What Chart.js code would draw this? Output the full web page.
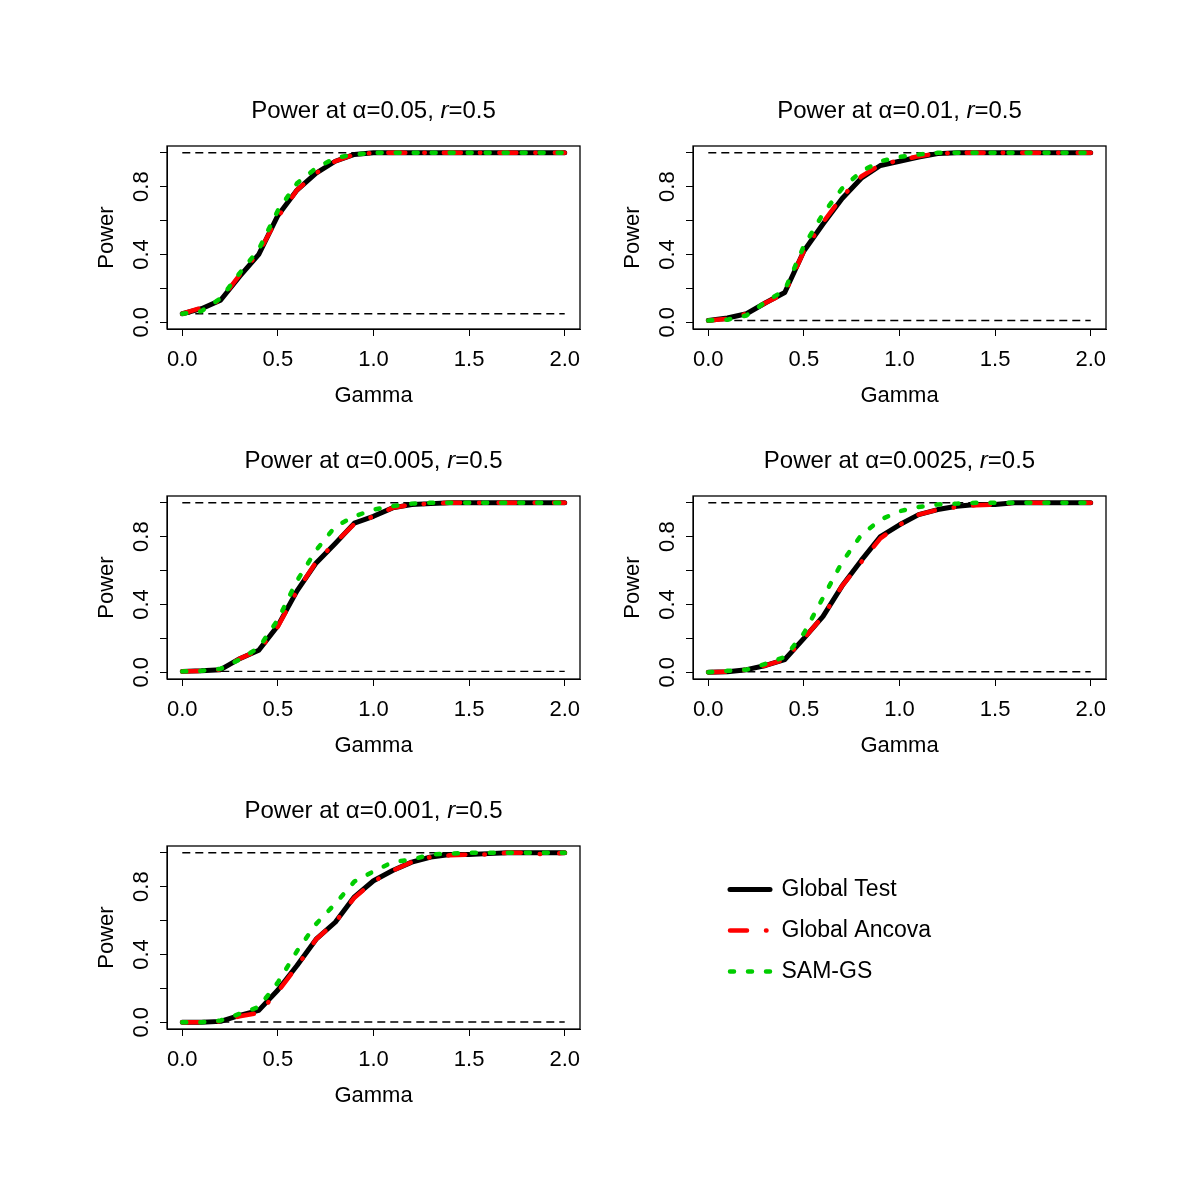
<!DOCTYPE html>
<html>
<head>
<meta charset="utf-8">
<script src="https://cdn.jsdelivr.net/npm/chart.js@4.4.1/dist/chart.umd.min.js"></script>
<style>
  html, body { margin: 0; padding: 0; background: #fff; }
  #wrap { position: relative; width: 1200px; height: 1186px; background: #fff; }
  canvas { position: absolute; }
</style>
</head>
<body>
<div id="wrap">
  <canvas id="p1" width="540" height="345" style="left:60px;top:75px"></canvas>
  <canvas id="p2" width="540" height="345" style="left:586px;top:75px"></canvas>
  <canvas id="p3" width="540" height="345" style="left:60px;top:425px"></canvas>
  <canvas id="p4" width="540" height="345" style="left:586px;top:425px"></canvas>
  <canvas id="p5" width="540" height="345" style="left:60px;top:775px"></canvas>
  <canvas id="legend" width="480" height="220" style="left:712px;top:860px"></canvas>
</div>
<script>
const FONT = "'Liberation Sans', Arial, sans-serif";

// x values (Gamma) shared by all panels
const gamma = [0, 0.1, 0.2, 0.3, 0.4, 0.5, 0.6, 0.7, 0.8, 0.9, 1.0,
               1.1, 1.2, 1.3, 1.4, 1.5, 1.6, 1.7, 1.8, 1.9, 2.0];
const xTicks = [0, 0.5, 1, 1.5, 2];
const yTicks = [0, 0.2, 0.4, 0.6, 0.8, 1];
const yLabelled = [0, 0.4, 0.8];
const seriesNames = ["Global Test", "Global Ancova", "SAM-GS"];
const alphaLabels = ["0.05", "0.01", "0.005", "0.0025", "0.001"];
const alphas = [0.05, 0.01, 0.005, 0.0025, 0.001];
const topLevel = 1;

// alpha = 0.05
const gt1  = [0.05, 0.08, 0.13, 0.27, 0.40, 0.63, 0.78, 0.88, 0.95, 0.99, 1, 1, 1, 1, 1, 1, 1, 1, 1, 1, 1];
const ga1  = [0.05, 0.085, 0.13, 0.28, 0.41, 0.62, 0.78, 0.88, 0.95, 0.99, 1, 1, 1, 1, 1, 1, 1, 1, 1, 1, 1];
const sam1 = [0.05, 0.065, 0.14, 0.29, 0.43, 0.66, 0.82, 0.91, 0.97, 0.99, 1, 1, 1, 1, 1, 1, 1, 1, 1, 1, 1];
// alpha = 0.01
const gt2  = [0.01, 0.025, 0.05, 0.115, 0.175, 0.42, 0.58, 0.73, 0.85, 0.925, 0.95, 0.975, 0.995, 1, 1, 1, 1, 1, 1, 1, 1];
const ga2  = [0.01, 0.02, 0.05, 0.115, 0.17, 0.42, 0.59, 0.74, 0.86, 0.93, 0.955, 0.98, 0.995, 1, 1, 1, 1, 1, 1, 1, 1];
const sam2 = [0.01, 0.015, 0.04, 0.12, 0.19, 0.45, 0.64, 0.79, 0.89, 0.95, 0.975, 0.99, 1, 1, 1, 1, 1, 1, 1, 1, 1];
// alpha = 0.005
const gt3  = [0.005, 0.008, 0.015, 0.08, 0.13, 0.275, 0.48, 0.645, 0.76, 0.88, 0.92, 0.97, 0.99, 0.995, 1, 1, 1, 1, 1, 1, 1];
const ga3  = [0.005, 0.008, 0.015, 0.08, 0.13, 0.27, 0.48, 0.65, 0.765, 0.875, 0.92, 0.97, 0.99, 0.995, 1, 1, 1, 1, 1, 1, 1];
const sam3 = [0.005, 0.008, 0.02, 0.075, 0.145, 0.31, 0.54, 0.72, 0.86, 0.92, 0.96, 0.98, 0.995, 1, 1, 1, 1, 1, 1, 1, 1];
// alpha = 0.0025
const gt4  = [0, 0.003, 0.015, 0.04, 0.075, 0.2, 0.33, 0.51, 0.66, 0.80, 0.87, 0.93, 0.96, 0.98, 0.99, 0.99, 1, 1, 1, 1, 1];
const ga4  = [0, 0.003, 0.015, 0.04, 0.075, 0.2, 0.33, 0.51, 0.65, 0.79, 0.87, 0.93, 0.96, 0.975, 0.985, 0.99, 1, 1, 1, 1, 1];
const sam4 = [0, 0.008, 0.015, 0.05, 0.09, 0.23, 0.44, 0.65, 0.81, 0.90, 0.95, 0.975, 0.99, 0.995, 1, 1, 1, 1, 1, 1, 1];
// alpha = 0.001
const gt5  = [0, 0, 0.005, 0.04, 0.07, 0.19, 0.335, 0.49, 0.59, 0.74, 0.835, 0.895, 0.945, 0.975, 0.99, 0.99, 0.995, 1, 1, 1, 1];
const ga5  = [0, 0, 0.005, 0.035, 0.055, 0.18, 0.33, 0.49, 0.59, 0.735, 0.83, 0.895, 0.945, 0.975, 0.985, 0.99, 0.99, 1, 1, 0.99, 1];
const sam5 = [0, 0, 0.01, 0.05, 0.09, 0.235, 0.42, 0.58, 0.70, 0.83, 0.89, 0.945, 0.96, 0.99, 0.995, 1, 1, 1, 1, 1, 1];

const panels = [
  { id: "p1", gt: gt1, ga: ga1, sam: sam1 },
  { id: "p2", gt: gt2, ga: ga2, sam: sam2 },
  { id: "p3", gt: gt3, ga: ga3, sam: sam3 },
  { id: "p4", gt: gt4, ga: ga4, sam: sam4 },
  { id: "p5", gt: gt5, ga: ga5, sam: sam5 },
];

const styles = {
  gt:  { color: "#000000", width: 5, dash: [] },
  ga:  { color: "#FF0000", width: 4.5, dash: [17, 19, 0.5, 19] },
  sam: { color: "#00CD00", width: 4.5, dash: [4, 14] },
};

const toPts = (ys) => ys.map((y, i) => ({ x: gamma[i], y: y }));

function refLine(level) {
  return {
    label: "ref",
    data: [{ x: gamma[0], y: level }, { x: gamma[gamma.length - 1], y: level }],
    borderColor: "#000",
    borderWidth: 1.4,
    borderDash: [8, 5],
    pointRadius: 0,
    order: 3,
  };
}

function seriesSet(key, label, ys, order) {
  const s = styles[key];
  return {
    label: label,
    data: toPts(ys),
    borderColor: s.color,
    borderWidth: s.width,
    borderDash: s.dash,
    borderCapStyle: "round",
    borderJoinStyle: "round",
    pointRadius: 0,
    tension: 0,
    order: order,
  };
}

function makePanel(p, k) {
  const titleParts = [
    { text: "Power at ", font: "24px " + FONT },
    { text: "\u03B1", font: "24px " + FONT },
    { text: "=" + alphaLabels[k] + ", ", font: "24px " + FONT },
    { text: "r", font: "italic 24px " + FONT },
    { text: "=0.5", font: "24px " + FONT },
  ];

  // box + R-style title
  const decor = {
    id: "decor" + k,
    afterDraw(chart) {
      const ctx = chart.ctx;
      const a = chart.chartArea;
      ctx.save();
      ctx.strokeStyle = "#000";
      ctx.lineWidth = 1.3;
      ctx.strokeRect(a.left, a.top, a.right - a.left, a.bottom - a.top);
      ctx.fillStyle = "#000";
      ctx.textBaseline = "middle";
      ctx.textAlign = "left";
      let total = 0;
      const widths = titleParts.map((t) => {
        ctx.font = t.font;
        const w = ctx.measureText(t.text).width;
        total += w;
        return w;
      });
      let x = (a.left + a.right) / 2 - total / 2;
      titleParts.forEach((t, i) => {
        ctx.font = t.font;
        ctx.fillText(t.text, x, 36);
        x += widths[i];
      });
      ctx.restore();
    },
  };

  new Chart(document.getElementById(p.id), {
    type: "line",
    data: {
      datasets: [
        seriesSet("sam", seriesNames[2], p.sam, 0),
        seriesSet("ga", seriesNames[1], p.ga, 1),
        seriesSet("gt", seriesNames[0], p.gt, 2),
        refLine(alphas[k]),
        refLine(topLevel),
      ],
    },
    options: {
      responsive: false,
      animation: false,
      events: [],
      layout: { padding: { top: 71, right: 20, left: 0, bottom: 0 } },
      plugins: { legend: { display: false }, tooltip: { enabled: false }, title: { display: false } },
      scales: {
        x: {
          type: "linear",
          min: -0.08,
          max: 2.08,
          afterBuildTicks: (s) => { s.ticks = xTicks.map((v) => ({ value: v })); },
          afterFit: (s) => { s.height = 91; },
          ticks: {
            autoSkip: false,
            color: "#000",
            font: { family: FONT, size: 22 },
            padding: 11,
            maxRotation: 0,
            callback: (v) => v.toFixed(1),
          },
          grid: { drawOnChartArea: false, drawTicks: true, tickLength: 7, color: "#000", tickColor: "#000" },
          border: { display: true, color: "#000", width: 1 },
          title: { display: true, text: "Gamma", color: "#000", font: { family: FONT, size: 22 }, padding: { top: 0, bottom: 11 } },
        },
        y: {
          type: "linear",
          min: -0.04,
          max: 1.04,
          afterBuildTicks: (s) => { s.ticks = yTicks.map((v) => ({ value: v })); },
          afterFit: (s) => { s.width = 107; },
          ticks: {
            autoSkip: false,
            color: "#000",
            font: { family: FONT, size: 22 },
            padding: 3,
            minRotation: 90,
            maxRotation: 90,
            crossAlign: "center",
            callback: (v) => (yLabelled.includes(v) ? v.toFixed(1) : ""),
          },
          grid: { drawOnChartArea: false, drawTicks: true, tickLength: 7, color: "#000", tickColor: "#000" },
          border: { display: true, color: "#000", width: 1 },
          title: { display: true, text: "Power", color: "#000", font: { family: FONT, size: 22 }, padding: { top: 34, bottom: 0 } },
        },
      },
    },
    plugins: [decor],
  });
}

panels.forEach(makePanel);

// legend panel
const legendKeys = ["gt", "ga", "sam"];
new Chart(document.getElementById("legend"), {
  type: "line",
  data: {
    datasets: legendKeys.map((key, i) => seriesSet(key, seriesNames[i], [], i)),
  },
  options: {
    responsive: false,
    animation: false,
    events: [],
    layout: { padding: 0 },
    scales: { x: { display: false }, y: { display: false } },
    plugins: {
      tooltip: { enabled: false },
      legend: {
        display: true,
        position: "left",
        align: "start",
        labels: {
          usePointStyle: true,
          pointStyleWidth: 40,
          padding: 18,
          color: "#000",
          font: { family: FONT, size: 23 },
          generateLabels: (chart) =>
            chart.data.datasets.map((ds, i) => ({
              text: ds.label,
              fillStyle: ds.borderColor,
              strokeStyle: ds.borderColor,
              lineWidth: ds.borderWidth,
              lineDash: ds.borderDash,
              lineCap: "round",
              pointStyle: "line",
              hidden: false,
              fontColor: "#000",
              datasetIndex: i,
            })),
        },
      },
    },
  },
});
</script>
</body>
</html>
